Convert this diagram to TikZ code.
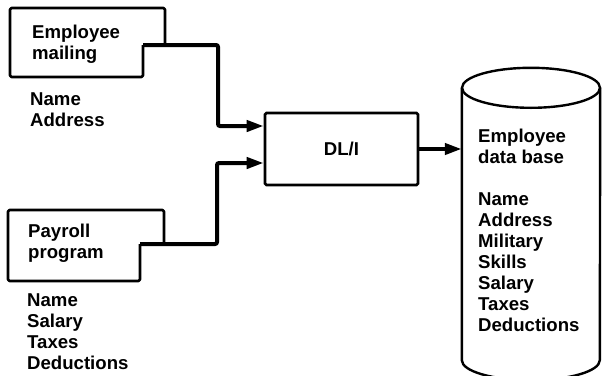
\documentclass[tikz,border=0pt]{standalone}
\usepackage{fontspec}
\setmainfont{Liberation Sans}
\usetikzlibrary{arrows.meta,calc}

\tikzset{
  lbl/.style={font=\bfseries\fontsize{18.6}{21}\selectfont, align=left,
    anchor=north west, inner sep=0pt},
  boxline/.style={line width=2.6pt, rounded corners=1.5pt, line join=round},
  dbline/.style={line width=2.4pt},
  procbox/.style={draw, line width=2.6pt, rounded corners=1.5pt,
    font=\bfseries\fontsize{18.6}{21}\selectfont, inner sep=0pt},
  conn/.style={line width=4pt, rounded corners=2pt, ->},
}

\begin{document}
\begin{tikzpicture}[x=1pt, y=-1pt, >={Triangle[length=17pt,width=11pt]}]
  \useasboundingbox (0,0) rectangle (602,375);

  % Employee mailing box (line leaves from the notch)
  \coordinate (mailout) at (143,45);
  \draw[boxline] (mailout) -- (143,77) -- (10,77) -- (10,8) -- (165,8) -- (165,45);
  \node[lbl] (mailing) at (32,24.5) {Employee\\mailing};
  \node[lbl] (mailfields) at (30,92.5) {Name\\Address};

  % Payroll program box
  \coordinate (payout) at (140,244);
  \draw[boxline] (payout) -- (140,281) -- (8,281) -- (8,210) -- (164,210) -- (164,244);
  \node[lbl] (payroll) at (28,223.5) {Payroll\\program};
  \node[lbl] (payfields) at (27,293.5) {Name\\Salary\\Taxes\\Deductions};

  % DL/I
  \node[procbox, minimum width=153pt, minimum height=72pt] (dli) at (341.5,149) {DL/I};

  % Data base cylinder
  \node[minimum width=138pt, minimum height=272pt, inner sep=0pt] (db) at (531,224) {};
  \draw[dbline] (db.north west) -- (db.south west)
    arc[start angle=180, end angle=360, x radius=69pt, y radius=20pt] -- (db.north east);
  \draw[dbline] (db.north) ellipse[x radius=69pt, y radius=20pt];
  \node[lbl] (dbfields) at (478,128.5)
    {Employee\\data base\\[21pt]Name\\Address\\Military\\Skills\\Salary\\Taxes\\Deductions};

  % Connectors
  \draw[conn] (mailout) -- (218,45) |- ($(dli.west)+(0,-23)$);
  \draw[conn] (payout) -- (217,244) |- ($(dli.west)+(0,14)$);
  \draw[conn] (dli.east) -- (dli.east -| db.west);
\end{tikzpicture}
\end{document}
